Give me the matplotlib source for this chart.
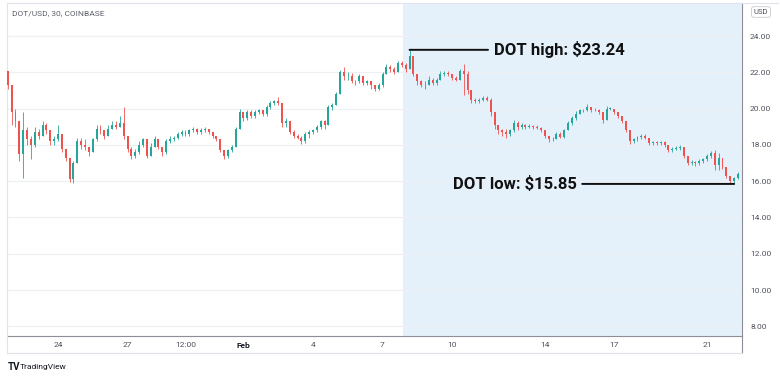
import numpy as np
import matplotlib.pyplot as plt
import matplotlib.dates as mdates
from matplotlib.lines import Line2D
from datetime import datetime, timedelta

plt.rcParams['font.family'] = ['Roboto', 'DejaVu Sans']

# 4h candles, first one at Jan 21 20:00
start = datetime(2022, 1, 21, 20, 0)
step = timedelta(hours=4)
first_open = 22.05

close = [21.3, 19.8, 19.3, 17.5, 18.8, 18.3, 18.0, 18.7, 18.5, 19.1,
         18.8, 18.2, 18.3, 18.6, 17.8, 17.3, 16.1, 17.0, 18.2, 18.0,
         17.9, 17.6, 18.3, 18.9, 18.8, 18.5, 18.9, 19.1, 19.0, 19.2,
         18.5, 17.8, 17.4, 17.6, 18.0, 18.3, 17.4, 17.9, 18.3, 17.9,
         17.6, 18.2, 18.3, 18.4, 18.6, 18.7, 18.6, 18.8, 18.9, 18.7,
         18.8, 18.85, 18.7, 18.5, 18.3, 17.7, 17.4, 17.7, 17.9, 18.9,
         19.8, 19.5, 19.8, 19.6, 19.8, 19.9, 19.7, 20.1, 20.3, 20.4,
         20.3, 19.2, 19.3, 18.7, 18.5, 18.4, 18.2, 18.6, 18.7, 18.8,
         19.0, 19.3, 19.1, 20.1, 20.2, 20.8, 22.0, 21.8, 21.8, 21.5,
         21.5, 21.8, 21.4, 21.5, 21.3, 21.1, 21.3, 21.9, 22.3, 22.2,
         22.0, 22.5, 22.4, 22.2, 22.9, 21.9, 21.5, 21.3, 21.3, 21.6,
         21.4, 21.6, 21.9, 21.95, 21.9, 21.7, 21.6, 22.1, 21.9, 21.0,
         20.5, 20.4, 20.5, 20.6, 20.5, 19.8, 19.1, 18.8, 18.7, 18.6,
         18.8, 19.2, 19.0, 19.1, 19.0, 19.05, 19.0, 18.95, 18.8, 18.5,
         18.3, 18.35, 18.6, 18.45, 18.8, 19.2, 19.5, 19.7, 19.9, 19.9,
         20.1, 19.9, 19.95, 19.8, 19.4, 20.0, 20.0, 19.8, 19.6, 19.3,
         18.8, 18.2, 18.3, 18.45, 18.5, 18.4, 18.1, 18.15, 18.1, 18.15,
         18.0, 17.7, 17.8, 17.85, 17.9, 17.4, 17.0, 17.05, 17.0, 17.1,
         17.2, 17.4, 17.55, 16.9, 17.3, 16.8, 16.3, 16.0, 16.15, 16.4]

high = [22.1, 21.3, 20.0, 19.3, 19.8, 19.0, 18.5, 19.0, 18.9, 19.3,
        19.2, 18.8, 18.5, 19.1, 18.6, 17.8, 17.3, 17.1, 18.4, 18.4,
        18.3, 17.9, 18.4, 19.1, 19.1, 18.8, 19.1, 19.3, 19.3, 19.6,
        20.1, 18.5, 17.9, 17.8, 18.2, 18.4, 18.3, 18.1, 18.5, 18.3,
        17.9, 18.3, 18.5, 18.5, 18.7, 18.8, 18.8, 18.9, 19.0, 18.95,
        18.95, 19.0, 18.9, 18.7, 18.5, 18.3, 17.7, 17.8, 18.0, 19.0,
        20.0, 19.8, 19.9, 19.9, 19.9, 20.0, 19.95, 20.2, 20.4, 20.5,
        20.65, 20.3, 19.5, 19.3, 18.8, 18.6, 18.5, 18.7, 18.8, 18.9,
        19.1, 19.4, 19.4, 20.2, 20.3, 20.9, 22.15, 22.3, 22.0, 21.95,
        21.6, 21.9, 21.8, 21.6, 21.5, 21.3, 21.4, 22.0, 22.45, 22.4,
        22.3, 22.65, 22.6, 22.5, 23.24, 22.9, 21.9, 21.6, 21.5, 21.8,
        21.7, 21.7, 22.05, 22.1, 22.05, 21.9, 21.8, 22.2, 22.45, 22.1,
        21.0, 20.6, 20.6, 20.7, 20.7, 20.6, 19.8, 19.1, 18.9, 18.9,
        18.9, 19.35, 19.3, 19.2, 19.15, 19.15, 19.1, 19.1, 19.0, 18.8,
        18.5, 18.45, 18.7, 18.7, 18.9, 19.3, 19.6, 19.85, 20.0, 20.0,
        20.25, 20.1, 20.05, 20.0, 19.8, 20.15, 20.1, 20.0, 19.8, 19.5,
        19.3, 18.8, 18.4, 18.5, 18.6, 18.6, 18.4, 18.2, 18.2, 18.2,
        18.2, 18.0, 17.9, 17.95, 18.0, 17.9, 17.4, 17.15, 17.1, 17.2,
        17.3, 17.5, 17.65, 17.7, 17.55, 17.3, 16.8, 16.3, 16.25, 16.5]

low = [21.1, 19.1, 19.0, 17.1, 16.2, 18.0, 17.2, 17.9, 18.3, 18.5,
       18.6, 18.0, 18.0, 18.2, 17.6, 17.1, 15.95, 15.9, 17.0, 17.8,
       17.7, 17.4, 17.6, 18.2, 18.6, 18.3, 18.5, 18.9, 18.9, 19.0,
       18.3, 17.6, 17.2, 17.3, 17.5, 17.9, 17.3, 17.4, 17.9, 17.8,
       17.4, 17.5, 18.1, 18.2, 18.3, 18.5, 18.5, 18.5, 18.7, 18.6,
       18.6, 18.7, 18.6, 18.4, 18.2, 17.6, 17.2, 17.3, 17.6, 17.9,
       18.9, 19.3, 19.4, 19.5, 19.5, 19.7, 19.6, 19.6, 20.0, 20.2,
       20.2, 19.0, 19.0, 18.6, 18.4, 18.3, 18.05, 18.1, 18.4, 18.6,
       18.7, 18.9, 18.9, 19.1, 19.9, 20.2, 20.8, 21.6, 21.6, 21.4,
       21.3, 21.4, 21.3, 21.3, 21.1, 20.95, 21.0, 21.2, 21.9, 22.0,
       21.9, 22.0, 22.3, 22.0, 22.2, 21.8, 21.3, 21.2, 21.1, 21.3,
       21.3, 21.3, 21.6, 21.8, 21.8, 21.55, 21.5, 21.6, 20.75, 20.8,
       20.3, 20.3, 20.3, 20.4, 20.4, 19.6, 18.9, 18.6, 18.5, 18.4,
       18.5, 18.7, 18.8, 18.9, 18.9, 18.95, 18.9, 18.85, 18.7, 18.4,
       18.15, 18.2, 18.3, 18.4, 18.4, 18.8, 19.1, 19.4, 19.7, 19.8,
       19.85, 19.8, 19.85, 19.7, 19.2, 19.4, 19.9, 19.7, 19.5, 19.2,
       18.7, 18.05, 18.1, 18.2, 18.35, 18.3, 18.0, 18.0, 18.0, 18.0,
       17.9, 17.6, 17.6, 17.7, 17.7, 17.3, 16.9, 16.9, 16.85, 16.9,
       17.0, 17.1, 17.3, 16.6, 16.6, 16.7, 16.15, 15.9, 15.85, 16.1]

tick_dates = [datetime(2022, 1, 24), datetime(2022, 1, 27), datetime(2022, 1, 29, 12),
              datetime(2022, 2, 1), datetime(2022, 2, 4), datetime(2022, 2, 7),
              datetime(2022, 2, 10), datetime(2022, 2, 14), datetime(2022, 2, 17),
              datetime(2022, 2, 21)]
tick_labels = ['24', '27', '12:00', 'Feb', '4', '7', '10', '14', '17', '21']
price_ticks = [8, 10, 12, 14, 16, 18, 20, 22, 24]

hi_label = r'DOT high: \$23.24'
lo_label = r'DOT low: \$15.85'

close = np.array(close)
high = np.array(high)
low = np.array(low)
opn = np.concatenate([[first_open], close[:-1]])
t = mdates.date2num([start + i * step for i in range(len(close))])

up_col = '#26a69a'
dn_col = '#ef5350'
cols = np.where(close >= opn, up_col, dn_col)

W, H = 780, 378
fig = plt.figure(figsize=(7.8, 3.78), dpi=100)
ax = fig.add_axes([7 / W, 1 - 336 / H, 735 / W, 333 / H])

ax.axvspan(mdates.date2num(datetime(2022, 2, 7, 21)), mdates.date2num(datetime(2022, 2, 22, 13)),
           color='#e4f1fb', zorder=0, lw=0)

ax.vlines(t, low, high, colors=cols, lw=0.6, zorder=2)
body_w = 0.085
bot = np.minimum(opn, close)
hgt = np.maximum(np.abs(close - opn), 0.02)
ax.bar(t, hgt, bottom=bot, width=body_w, color=cols, lw=0, zorder=3)

ax.set_xlim(mdates.date2num(datetime(2022, 1, 21, 19, 12)), mdates.date2num(datetime(2022, 2, 22, 12, 12)))
ax.set_ylim(7.47, 25.82)

ax.set_yticks(price_ticks)
ax.set_yticklabels(['%.2f' % p for p in price_ticks])
ax.yaxis.tick_right()
ax.tick_params(axis='y', length=0, pad=5.8, labelsize=6, labelcolor='#50535e')
ax.set_xticks(mdates.date2num(tick_dates))
ax.set_xticklabels(tick_labels)
ax.tick_params(axis='x', length=0, pad=4.5, labelsize=6, labelcolor='#50535e')
for lab in ax.get_xticklabels():
    if lab.get_text() == 'Feb':
        lab.set_fontweight('bold')
        lab.set_color('#131722')

ax.grid(True, axis='y', color='#eef0f4', lw=0.9)
ax.set_axisbelow(True)

for s in ['left', 'top']:
    ax.spines[s].set_color('#e0e3eb')
    ax.spines[s].set_linewidth(0.8)
for s in ['right', 'bottom']:
    ax.spines[s].set_color('#8c8f98')
    ax.spines[s].set_linewidth(0.8)

# annotations
i_hi = int(np.argmax(high))
i_lo = int(np.argmin(low))
ax.annotate(hi_label, xy=(t[i_hi], high[i_hi]),
            xytext=(mdates.date2num(datetime(2022, 2, 11, 19)), high[i_hi]),
            ha='left', va='center', fontsize=12, fontweight='bold', color='#111111',
            arrowprops=dict(arrowstyle='-', color='#111111', lw=1.4, shrinkA=2, shrinkB=0),
            zorder=5)
ax.annotate(lo_label, xy=(t[i_lo], low[i_lo]),
            xytext=(mdates.date2num(datetime(2022, 2, 15, 9)), low[i_lo]),
            ha='right', va='center', fontsize=12, fontweight='bold', color='#111111',
            arrowprops=dict(arrowstyle='-', color='#111111', lw=1.4, shrinkA=2, shrinkB=0),
            zorder=5)

# frame pieces outside the plot area
fig.add_artist(Line2D([742 / W, 742 / W], [1 - 336 / H, 1 - 353 / H], color='#8c8f98', lw=0.8))
fig.add_artist(Line2D([7 / W, 7 / W], [1 - 336 / H, 1 - 353 / H], color='#e0e3eb', lw=0.8))
fig.add_artist(Line2D([7 / W, 742 / W], [1 - 353 / H, 1 - 353 / H], color='#e0e3eb', lw=0.8))
fig.add_artist(Line2D([742 / W, 778 / W], [1 - 2.5 / H, 1 - 2.5 / H], color='#e0e3eb', lw=0.8))

fig.text(12 / W, 1 - 13 / H, 'DOT/USD, 30, COINBASE', fontsize=6, color='#5d606b', va='center')
fig.text(761 / W, 1 - 12 / H, 'USD', fontsize=5.5, color='#4b4e57', ha='center', va='center',
         bbox=dict(boxstyle='round,pad=0.3', fc='white', ec='#c8cad0', lw=0.6))
fig.text(8 / W, 1 - 367 / H, 'TV', fontsize=7, fontweight='bold', color='#131722', va='center')
fig.text(20 / W, 1 - 367 / H, 'TradingView', fontsize=6, color='#131722', va='center')

fig.savefig('out.png', dpi=100)
